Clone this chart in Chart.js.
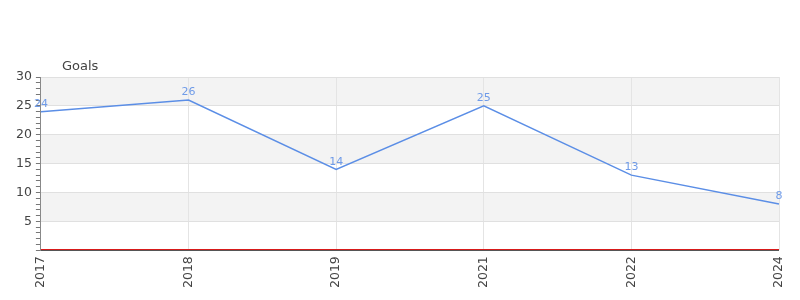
<!DOCTYPE html>
<html>
<head>
<meta charset="utf-8">
<script src="https://cdn.jsdelivr.net/npm/chart.js@4"></script>
<style>
  html, body { margin: 0; padding: 0; background: #fff; }
  #wrap { width: 800px; height: 300px; }
</style>
</head>
<body>
<div id="wrap"><canvas id="goals-chart"></canvas></div>
<script>
var years = ["2017", "2018", "2019", "2021", "2022", "2024"];
var goals = [24, 26, 14, 25, 13, 8];
var yMax = 30;

// grey bands between every other major tick
var bands = {
  id: "bands",
  beforeDraw: function (chart) {
    var ctx = chart.ctx, area = chart.chartArea, y = chart.scales.y;
    ctx.save();
    ctx.fillStyle = "#f3f3f3";
    for (var v = 5; v < yMax; v += 10) {
      var top = y.getPixelForValue(v + 5), bottom = y.getPixelForValue(v);
      ctx.fillRect(area.left, top, area.right - area.left, bottom - top);
    }
    ctx.restore();
  }
};

var valueLabels = {
  id: "valueLabels",
  afterDatasetsDraw: function (chart) {
    var ctx = chart.ctx, area = chart.chartArea, meta = chart.getDatasetMeta(0);
    ctx.save();
    ctx.font = "11px 'DejaVu Sans'";
    ctx.fillStyle = "#6f9be8";
    ctx.textAlign = "center";
    ctx.textBaseline = "bottom";
    meta.data.forEach(function (pt, i) {
      ctx.fillText(goals[i], pt.x, pt.y - 2);
    });
    ctx.font = "13px 'DejaVu Sans'";
    ctx.fillStyle = "#444";
    ctx.textAlign = "left";
    ctx.textBaseline = "middle";
    ctx.fillText("Goals", area.left + 21, area.top - 10);
    ctx.restore();
  },
  afterDraw: function (chart) {
    // red zero line with the grey axis line right under it
    var ctx = chart.ctx, area = chart.chartArea;
    var r = Math.round(chart.scales.y.getPixelForValue(0)) - 1;
    var l = Math.round(area.left), w = Math.round(area.right) - l;
    ctx.save();
    ctx.fillStyle = "#d81a1a";
    ctx.fillRect(l, r, w, 1);
    ctx.fillStyle = "#555";
    ctx.fillRect(l, r + 1, w, 1);
    ctx.restore();
  }
};

new Chart(document.getElementById("goals-chart"), {
  type: "line",
  data: {
    labels: years,
    datasets: [{
      label: "Goals",
      data: goals,
      borderColor: "#5b8ee6",
      borderWidth: 1.5,
      pointRadius: 0,
      tension: 0,
      fill: false
    }]
  },
  options: {
    responsive: true,
    maintainAspectRatio: false,
    animation: false,
    layout: { padding: { top: 77, right: 18, left: 12, bottom: 6 } },
    plugins: {
      legend: { display: false },
      tooltip: { enabled: false }
    },
    scales: {
      x: {
        offset: false,
        grid: { color: "#e4e4e4", drawTicks: false },
        border: { display: false },
        ticks: {
          maxRotation: 90, minRotation: 90, padding: 6,
          color: "#444", font: { family: "DejaVu Sans", size: 12.5 }
        }
      },
      y: {
        min: 0, max: yMax,
        grid: {
          color: function (c) {
            if (c.tick.value === 0) return "rgba(0,0,0,0)";
            return c.tick.value % 5 === 0 ? "#e0e0e0" : "rgba(0,0,0,0)";
          },
          tickColor: "#777",
          tickLength: 5
        },
        border: { color: "#888", width: 1 },
        ticks: {
          stepSize: 1, autoSkip: false, padding: 4,
          color: "#444", font: { family: "DejaVu Sans", size: 12.5 },
          callback: function (v) { return v % 5 === 0 && v !== 0 ? v : ""; }
        }
      }
    }
  },
  plugins: [bands, valueLabels]
});
</script>
</body>
</html>
